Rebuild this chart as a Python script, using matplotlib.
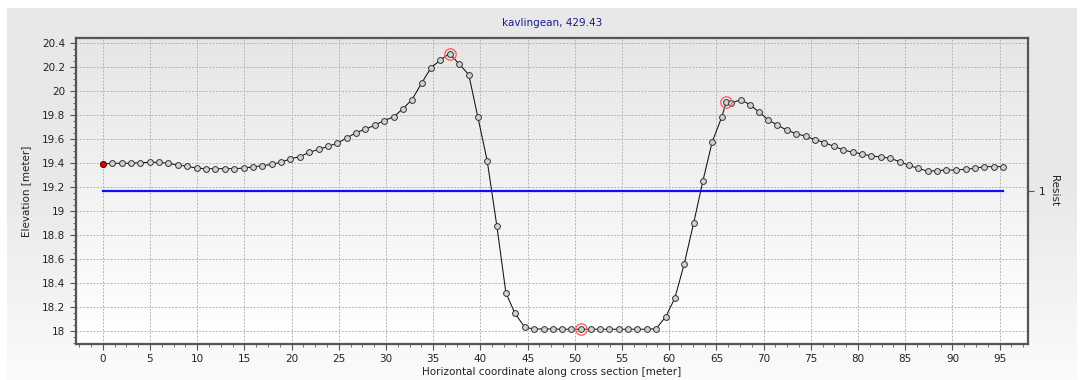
import numpy as np
import matplotlib
matplotlib.use("Agg")
import matplotlib.pyplot as plt
from matplotlib.ticker import MultipleLocator, AutoMinorLocator

# cross section profile
dist = [0.0, 0.99, 2.01, 2.97, 3.95, 4.98, 5.97, 6.92, 7.95, 8.93,
        9.96, 10.95, 11.94, 12.93, 13.92, 14.94, 15.93, 16.92, 17.91, 18.9,
        19.85, 20.87, 21.86, 22.88, 23.87, 24.82, 25.85, 26.84, 27.8, 28.81,
        29.8, 30.82, 31.81, 32.76, 33.79, 34.78, 35.77, 36.73, 37.75, 38.77,
        39.73, 40.72, 41.74, 42.7, 43.65, 44.71, 45.7, 46.69, 47.68, 48.65,
        49.64, 50.63, 51.69, 52.68, 53.67, 54.66, 55.64, 56.63, 57.62, 58.61,
        59.64, 60.59, 61.58, 62.6, 63.56, 64.55, 65.57, 66.03, 66.52, 67.58,
        68.52, 69.47, 70.5, 71.45, 72.47, 73.46, 74.45, 75.47, 76.43, 77.42,
        78.44, 79.43, 80.38, 81.4, 82.39, 83.38, 84.4, 85.36, 86.38, 87.41,
        88.4, 89.35, 90.37, 91.39, 92.35, 93.37, 94.36, 95.35]
elev = [19.394, 19.40, 19.40, 19.40, 19.405, 19.408, 19.408, 19.40, 19.386, 19.375,
        19.36, 19.355, 19.355, 19.355, 19.355, 19.36, 19.37, 19.38, 19.39, 19.41,
        19.436, 19.456, 19.49, 19.517, 19.54, 19.567, 19.61, 19.656, 19.683, 19.717,
        19.756, 19.786, 19.856, 19.93, 20.07, 20.197, 20.261, 20.314, 20.228, 20.139,
        19.786, 19.422, 18.88, 18.322, 18.15, 18.033, 18.019, 18.019, 18.019, 18.017,
        18.017, 18.017, 18.017, 18.017, 18.017, 18.017, 18.017, 18.017, 18.017, 18.022,
        18.122, 18.275, 18.558, 18.906, 19.25, 19.578, 19.786, 19.908, 19.90, 19.93,
        19.889, 19.83, 19.761, 19.719, 19.675, 19.647, 19.625, 19.597, 19.572, 19.542,
        19.511, 19.492, 19.478, 19.461, 19.453, 19.442, 19.414, 19.383, 19.358, 19.333,
        19.339, 19.344, 19.344, 19.35, 19.358, 19.372, 19.372, 19.372]
marked = [37, 51, 67]  # points with red rings

resist_x = [0.0, 95.35]
resist_val = [1, 1]

title = "kavlingean, 429.43"

W, H = 1082, 380
fig = plt.figure(figsize=(W / 100, H / 100), dpi=100)
fig.patch.set_facecolor("white")

# grey panel with fade to white
bg = fig.add_axes([7 / W, 0, 1070 / W, 372 / H], zorder=-10)
grad = np.linspace(0, 1, 256).reshape(-1, 1)
bg.imshow(grad, aspect="auto", cmap=matplotlib.colors.LinearSegmentedColormap.from_list(
    "p", ["#e8e8e8", "#e9e9e9", "#fbfbfb"]), extent=[0, 1, 0, 1], origin="upper")
bg.axis("off")

ax = fig.add_axes([75.8 / W, 1 - 344 / H, (1028 - 75.8) / W, (344 - 38) / H])
ax.imshow(grad, aspect="auto", cmap=matplotlib.colors.LinearSegmentedColormap.from_list(
    "a", ["#e6e6e6", "#ffffff"]), extent=[0, 1, 0, 1], origin="upper",
    transform=ax.transAxes, zorder=0)

ax.plot(dist, elev, color="#111111", lw=0.75, marker="o", ms=4.2,
        mfc="#d2d2d2", mec="#333333", mew=0.7, zorder=4)
ax.plot(dist[0], elev[0], "o", ms=4.2, mfc="#dd0000", mec="#660000", mew=0.7, zorder=5)
ax.plot([dist[i] for i in marked], [elev[i] for i in marked], "o", ms=8.2,
        mfc="none", mec="#ff6060", mew=1.0, zorder=5)

ax.set_xlim(-2.85, 98.0)
ax.set_ylim(17.894, 20.444)
ax.xaxis.set_major_locator(MultipleLocator(5))
ax.xaxis.set_minor_locator(AutoMinorLocator(4))
ax.yaxis.set_major_locator(MultipleLocator(0.2))
ax.yaxis.set_minor_locator(AutoMinorLocator(4))
ax.yaxis.set_major_formatter(matplotlib.ticker.FuncFormatter(lambda v, p: f"{v:g}"))
ax.grid(True, which="major", color="#b4b4b4", ls=(0, (2, 1.5)), lw=0.7, zorder=1)
ax.set_axisbelow(True)
ax.tick_params(which="both", colors="#555555", labelcolor="#222222", labelsize=7.5)
ax.tick_params(which="major", length=4, width=0.8)
ax.tick_params(which="minor", length=2.5, width=0.6)
for s in ax.spines.values():
    s.set_color("#555555")
    s.set_linewidth(1.6)

ax.set_xlabel("Horizontal coordinate along cross section [meter]", fontsize=7.5,
              color="#222222", labelpad=2)
ax.set_ylabel("Elevation [meter]", fontsize=7.5, color="#222222", labelpad=8)
ax.set_title(title, fontsize=7.5, color="#1a1a90", pad=9)

ax2 = ax.twinx()
ax2.plot(resist_x, resist_val, color="#1010ee", lw=1.6, zorder=3)
ax2.set_ylim(0, 2)
ax2.set_yticks([1])
ax2.tick_params(colors="#555555", labelcolor="#222222", labelsize=7.5, length=4, width=0.8)
ax2.set_ylabel("Resist", rotation=270, fontsize=7.5, color="#222222", labelpad=10)
for s in ax2.spines.values():
    s.set_visible(False)

fig.savefig("out.png", dpi=100, facecolor=fig.get_facecolor())
